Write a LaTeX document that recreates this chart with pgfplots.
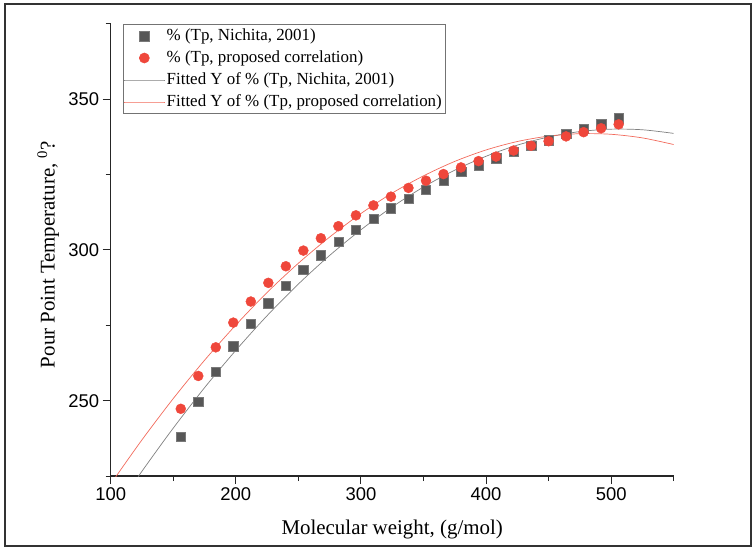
\documentclass[border=0pt]{standalone}
\usepackage{fontspec}
\setmainfont{Liberation Serif}
\newfontfamily\arial{Liberation Sans}
\usepackage{pgfplots}
\pgfplotsset{compat=1.18}

\definecolor{sqgray}{HTML}{575757}
\definecolor{ptred}{HTML}{EF473B}
\definecolor{fitgray}{HTML}{808080}
\definecolor{fitred}{HTML}{F26A5C}

\begin{document}
\begin{tikzpicture}
\useasboundingbox (-110.7bp,-74bp) rectangle (645.3bp,476bp);
\begin{axis}[
    scale only axis,
    width=563bp, height=452bp,
    at={(0,0)}, anchor=south west,
    xmin=100, xmax=550,
    ymin=225, ymax=375,
    axis x line*=bottom,
    axis y line*=left,
    xtick={100,200,300,400,500},
    minor xtick={150,250,350,450,550},
    ytick={250,300,350},
    minor ytick={225,275,325,375},
    tick align=outside,
    major tick length=8bp,
    minor tick length=5bp,
    tick style={black!85, line width=1bp},
    axis line style={black!85, line width=1.2bp},
    tick label style={font=\fontsize{18.5}{20}\selectfont\arial},
    /pgf/number format/assume math mode=true,
    xlabel={Molecular weight, (g/mol)},
    ylabel={Pour Point Temperature, \textsuperscript{0}?},
    label style={font=\fontsize{21}{24}\selectfont},
    xlabel style={at={(axis description cs:0.5,-0.119)}, anchor=center},
    ylabel style={at={(axis description cs:-0.111,0.49)}, anchor=center},
    legend cell align=left,
    legend style={
        at={(axis description cs:0.0213,0.999)}, anchor=north west,
        draw=black!55, line width=0.6bp, inner sep=1bp,
        font=\fontsize{17}{19}\selectfont,
        row sep=1.5bp,
        nodes={inner xsep=2bp, inner ysep=2bp, text height=12.5bp, text depth=4bp},
    },
    legend image code/.code={
        \draw[mark repeat=2,mark phase=2,#1]
            plot coordinates {(0bp,0bp) (20bp,0bp) (40bp,0bp)};
    },
]

% Nichita 2001
\addplot[only marks, mark=square*, mark size=4.7bp,
    mark options={fill=sqgray, draw=sqgray!80, line width=0.4bp}]
coordinates {
(156,238.1) (170,249.6) (184,259.7) (198,268.1) (212,275.5) (226,282.3)
(240,288.2) (254,293.5) (268,298.3) (282,302.8) (296,306.8) (310,310.4)
(324,313.9) (338,317.1) (352,320.1) (366,323.2) (380,325.9) (394,328.2)
(408,330.5) (422,332.6) (436,334.6) (450,336.5) (464,338.5) (478,340.2)
(492,341.9) (506,343.8)
};
\addlegendentry{\% (Tp, Nichita, 2001)}

% proposed correlation
\addplot[only marks, mark=*, mark size=5bp,
    mark options={fill=ptred, draw=ptred}]
coordinates {
(156,247.3) (170,258.2) (184,267.7) (198,275.9) (212,282.9) (226,289.1)
(240,294.6) (254,299.8) (268,303.9) (282,307.9) (296,311.5) (310,314.8)
(324,317.7) (338,320.6) (352,323.0) (366,325.2) (380,327.4) (394,329.5)
(408,331.0) (422,333.0) (436,334.6) (450,336.1) (464,337.7) (478,339.1)
(492,340.4) (506,341.7)
};
\addlegendentry{\% (Tp, proposed correlation)}

% fitted curves
\addplot[fitgray, line width=0.7bp, smooth, no marks]
coordinates {
(122,224.8) (130,229.5) (150,240.9) (175,254.3) (200,266.7) (225,278.2)
(250,288.7) (275,298.2) (300,306.7) (325,314.3) (350,320.9) (375,326.5)
(400,331.1) (425,334.8) (450,337.5) (475,339.3) (500,340.1) (525,339.9)
(550,338.7)
};
\addlegendentry{Fitted Y of \% (Tp, Nichita, 2001)}

\addplot[fitred, line width=0.7bp, smooth, no marks]
coordinates {
(104,224.7) (125,237.0) (150,250.7) (175,263.4) (200,275.1) (225,285.9)
(250,295.6) (275,304.3) (300,312.1) (325,318.9) (350,324.6) (375,329.4)
(400,333.2) (425,336.0) (450,337.8) (475,338.6) (500,338.4) (525,337.2)
(550,335.0)
};
\addlegendentry{Fitted Y of \% (Tp, proposed correlation)}

\end{axis}
\draw[black!80, line width=1.5bp] (-105.7bp,-70bp) rectangle (640.3bp,472bp);
\end{tikzpicture}
\end{document}
